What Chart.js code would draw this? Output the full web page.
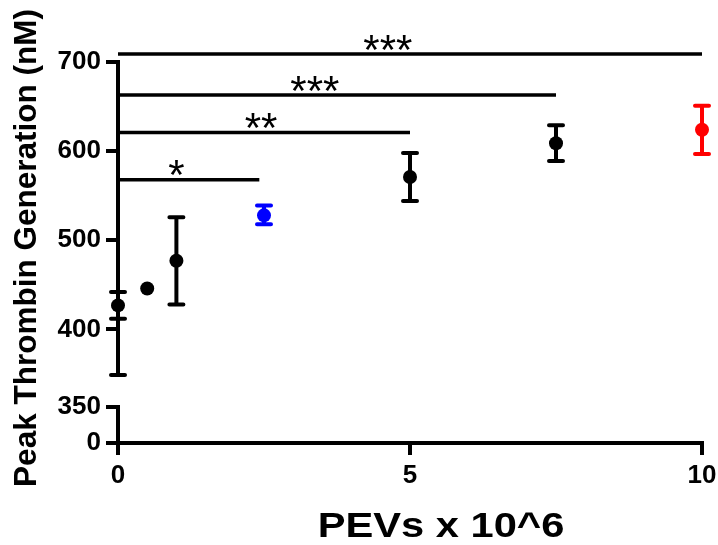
<!DOCTYPE html>
<html>
<head>
<meta charset="utf-8">
<title>Peak Thrombin Generation</title>
<script src="https://cdn.jsdelivr.net/npm/chart.js@4"></script>
<style>
  html, body { margin: 0; padding: 0; background: #fff; }
  canvas { display: block; }
</style>
</head>
<body>
<canvas id="chart" width="718" height="545"></canvas>
<script>
const doses = [0, 0.5, 1, 2.5, 5, 7.5, 10];
const peakMean = [427, 446, 477, 528, 571, 609, 624];
const errUp = [15, 0, 49, 11, 27, 20, 27];
const errDown = [15, 0, 49, 10, 27, 20, 27];
const pointColors = ['#000000', '#000000', '#000000', '#0000ff', '#000000', '#000000', '#ff0000'];

// second zero-dose set, only its lower whisker shows
const zeroDose = [0];
const zeroMean = [427];
const zeroErrDown = [78];

const upperTicks = [400, 500, 600, 700];
const lowerTicks = [0, 350];
const xTicks = [0, 5, 10];

// significance brackets
const bracketFrom = [0, 0, 0, 0];
const bracketTo = [2.42, 5, 7.5, 10];
const bracketLevel = [568, 621, 663, 709];
const bracketStars = ['*', '**', '***', '***'];
const starAt = [1.0, 2.45, 3.37, 4.62];

const FONT = '"Liberation Sans", Arial, sans-serif';

const setTicks = (values) => (scale) => {
    scale.ticks = values.map(v => ({ value: v }));
};

const axisStyle = {
    grid: { drawOnChartArea: false, drawTicks: true, tickLength: 12, lineWidth: 4, color: '#000' },
    border: { display: false },
    ticks: { color: '#000', font: { family: FONT, size: 26, weight: 'bold' }, padding: 5 }
};

const drawBar = (ctx, px, pTop, pBottom, color, capTop, capBottom) => {
    ctx.strokeStyle = color;
    ctx.lineWidth = 4;
    ctx.lineCap = 'butt';
    ctx.beginPath();
    ctx.moveTo(px, pTop);
    ctx.lineTo(px, pBottom);
    ctx.stroke();
    ctx.lineCap = 'round';
    ctx.beginPath();
    if (capTop) { ctx.moveTo(px - 7, pTop); ctx.lineTo(px + 7, pTop); }
    if (capBottom) { ctx.moveTo(px - 7, pBottom); ctx.lineTo(px + 7, pBottom); }
    ctx.stroke();
};

const errorBars = {
    id: 'errorBars',
    beforeDatasetsDraw(chart) {
        const { ctx, scales: { x, y } } = chart;
        ctx.save();
        zeroDose.forEach((d, i) => {
            drawBar(ctx, x.getPixelForValue(d), y.getPixelForValue(zeroMean[i]),
                y.getPixelForValue(zeroMean[i] - zeroErrDown[i]), '#000', false, true);
        });
        doses.forEach((d, i) => {
            if (!errUp[i] && !errDown[i]) return;
            drawBar(ctx, x.getPixelForValue(d), y.getPixelForValue(peakMean[i] + errUp[i]),
                y.getPixelForValue(peakMean[i] - errDown[i]), pointColors[i], true, true);
        });
        ctx.restore();
    }
};

// broken y axis: one line per segment
const axisLines = {
    id: 'axisLines',
    beforeDatasetsDraw(chart) {
        const { ctx, scales: { x, y, yLow } } = chart;
        ctx.save();
        ctx.strokeStyle = '#000';
        ctx.lineWidth = 4;
        ctx.lineCap = 'square';
        ctx.beginPath();
        ctx.moveTo(x.left, y.getPixelForValue(upperTicks[upperTicks.length - 1]));
        ctx.lineTo(x.left, y.bottom);
        ctx.moveTo(x.left, yLow.getPixelForValue(lowerTicks[1]));
        ctx.lineTo(x.left, yLow.getPixelForValue(lowerTicks[0]));
        ctx.stroke();
        ctx.restore();
    }
};

const brackets = {
    id: 'brackets',
    afterDatasetsDraw(chart) {
        const { ctx, scales: { x, y } } = chart;
        ctx.save();
        ctx.strokeStyle = '#000';
        ctx.fillStyle = '#000';
        ctx.lineWidth = 3.5;
        ctx.lineCap = 'butt';
        ctx.font = '42px ' + FONT;
        ctx.textAlign = 'center';
        ctx.textBaseline = 'alphabetic';
        bracketLevel.forEach((lv, i) => {
            const py = y.getPixelForValue(lv);
            ctx.beginPath();
            ctx.moveTo(x.getPixelForValue(bracketFrom[i]), py);
            ctx.lineTo(x.getPixelForValue(bracketTo[i]), py);
            ctx.stroke();
            ctx.fillText(bracketStars[i], x.getPixelForValue(starAt[i]), py + 9.5);
        });
        ctx.restore();
    }
};

const titles = {
    id: 'titles',
    afterDraw(chart) {
        const { ctx, chartArea } = chart;
        ctx.save();
        ctx.fillStyle = '#000';
        ctx.textAlign = 'center';
        ctx.textBaseline = 'alphabetic';

        ctx.font = 'bold 31.5px ' + FONT;
        ctx.translate(35.5, 248);
        ctx.rotate(-Math.PI / 2);
        ctx.fillText('Peak Thrombin Generation (nM)', 0, 0);
        ctx.setTransform(1, 0, 0, 1, 0, 0);

        ctx.font = 'bold 35px ' + FONT;
        ctx.translate((chartArea.left + chartArea.right) / 2 + 31, 537);
        ctx.scale(1.19, 1);
        ctx.fillText('PEVs x 10^6', 0, 0);
        ctx.restore();
    }
};

new Chart(document.getElementById('chart'), {
    type: 'scatter',
    data: {
        datasets: [{
            data: doses.map((d, i) => ({ x: d, y: peakMean[i] })),
            pointRadius: 7,
            pointHoverRadius: 7,
            pointBorderWidth: 0,
            pointBackgroundColor: pointColors,
            pointBorderColor: pointColors,
            clip: false,
            yAxisID: 'y'
        }]
    },
    options: {
        responsive: false,
        devicePixelRatio: 1,
        animation: false,
        events: [],
        layout: { padding: { top: 30, right: 16, left: 0, bottom: 0 } },
        plugins: { legend: { display: false }, tooltip: { enabled: false } },
        scales: {
            x: {
                type: 'linear',
                position: 'bottom',
                min: 0,
                max: 10,
                afterBuildTicks: setTicks(xTicks),
                afterFit: (s) => { s.height = 102; s.paddingLeft = 0; s.paddingRight = 0; },
                grid: axisStyle.grid,
                border: { display: true, width: 4, color: '#000' },
                ticks: { ...axisStyle.ticks, padding: 5 }
            },
            y: {
                type: 'linear',
                position: 'left',
                stack: 'left',
                stackWeight: 344,
                weight: 1,
                min: 350,
                max: 736,
                afterBuildTicks: setTicks(upperTicks),
                afterFit: (s) => { s.width = 118; },
                ...axisStyle
            },
            yLow: {
                type: 'linear',
                position: 'left',
                stack: 'left',
                stackWeight: 69,
                weight: 0,
                min: 0,
                max: 671,
                afterBuildTicks: setTicks(lowerTicks),
                afterFit: (s) => { s.width = 118; },
                ...axisStyle
            }
        }
    },
    plugins: [axisLines, errorBars, brackets, titles]
});
</script>
</body>
</html>
